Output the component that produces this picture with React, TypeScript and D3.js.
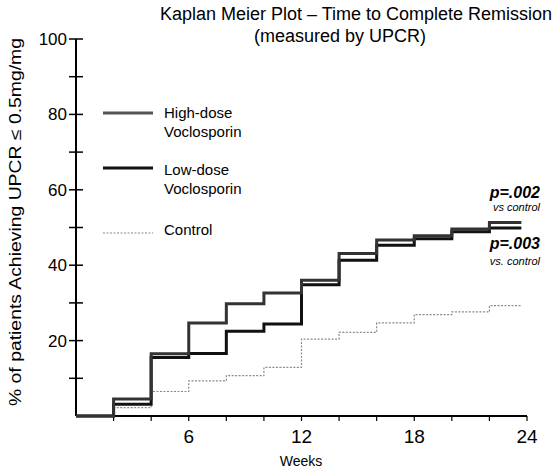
import React, { useRef, useEffect } from 'react'
import * as d3 from 'd3'

// step curves: [week, % achieving UPCR <= 0.5]
const highDose: [number, number][] = [
  [0, 0], [2, 4.5], [4, 16.5], [6, 24.7], [8, 29.8], [10, 32.6], [12, 36],
  [14, 43.1], [16, 46.7], [18, 47.8], [20, 49.6], [22, 51.3], [23.7, 51.3],
]
const lowDose: [number, number][] = [
  [0, 0], [2, 3.1], [4, 15.5], [6, 16.6], [8, 22.5], [10, 24.4], [12, 34.8],
  [14, 41.3], [16, 45.3], [18, 47], [20, 48.9], [22, 49.9], [23.7, 49.9],
]
const control: [number, number][] = [
  [0, 0], [2, 2.2], [4, 6.5], [6, 9.3], [8, 10.7], [10, 12.9], [12, 20.4],
  [14, 22.2], [16, 24.7], [18, 26.9], [20, 27.6], [22, 29.3], [23.7, 29.3],
]
const xLabels = [6, 12, 18, 24]
const yLabels = [20, 40, 60, 80, 100]

const font = 'Liberation Sans, Arial, sans-serif'

const App = () => {
  const svgRef = useRef<SVGSVGElement>(null)

  useEffect(() => {
    const svg = d3.select(svgRef.current)
    svg.selectAll('*').remove()

    const x = d3.scaleLinear().domain([0, 24]).range([76, 527])
    const y = d3.scaleLinear().domain([0, 100]).range([416, 39])

    // title
    svg.append('text').attr('x', 356).attr('y', 20).attr('text-anchor', 'middle')
      .attr('font-size', 18).attr('font-family', font).text('Kaplan Meier Plot \u2013 Time to Complete Remission')
    svg.append('text').attr('x', 340).attr('y', 42).attr('text-anchor', 'middle')
      .attr('font-size', 18).attr('font-family', font).text('(measured by UPCR)')

    // y axis
    svg.append('line').attr('x1', x(0)).attr('x2', x(0)).attr('y1', y(100)).attr('y2', y(0))
      .attr('stroke', '#000').attr('stroke-width', 2)
    svg.selectAll('.ytick').data(d3.range(10, 101, 10)).join('line')
      .attr('class', 'ytick')
      .attr('x1', x(0) - 7).attr('x2', x(0) + 7)
      .attr('y1', d => y(d)).attr('y2', d => y(d))
      .attr('stroke', '#000').attr('stroke-width', 1.5)
    svg.selectAll('.ylab').data(yLabels).join('text')
      .attr('class', 'ylab')
      .attr('x', x(0) - 9).attr('y', d => y(d) + 6)
      .attr('text-anchor', 'end').attr('font-size', 17).attr('font-family', font)
      .text(d => d)

    // x axis
    svg.append('line').attr('x1', x(0)).attr('x2', x(24)).attr('y1', y(0)).attr('y2', y(0))
      .attr('stroke', '#000').attr('stroke-width', 2)
    svg.selectAll('.xtick').data(d3.range(2, 25, 2)).join('line')
      .attr('class', 'xtick')
      .attr('x1', d => x(d)).attr('x2', d => x(d))
      .attr('y1', y(0)).attr('y2', y(0) + 5)
      .attr('stroke', '#000').attr('stroke-width', 1.2)
    svg.selectAll('.xlab').data(xLabels).join('text')
      .attr('class', 'xlab')
      .attr('x', d => x(d)).attr('y', 443)
      .attr('text-anchor', 'middle').attr('font-size', 19).attr('font-family', font)
      .text(d => d)
    svg.append('text').attr('x', 301).attr('y', 466).attr('text-anchor', 'middle')
      .attr('font-size', 14).attr('font-family', font).text('Weeks')

    // y label
    svg.append('text')
      .attr('transform', 'translate(21,222) rotate(-90)')
      .attr('text-anchor', 'middle').attr('font-size', 16).attr('font-family', font)
      .attr('textLength', 368).attr('lengthAdjust', 'spacingAndGlyphs')
      .text('% of patients Achieving UPCR \u2264 0.5mg/mg')

    const step = d3.line<[number, number]>()
      .x(d => x(d[0])).y(d => y(d[1]))
      .curve(d3.curveStepAfter)

    svg.append('path').datum(control).attr('d', step).attr('fill', 'none')
      .attr('stroke', '#8a8a8a').attr('stroke-width', 1.2).attr('stroke-dasharray', '2,1.5')
    svg.append('path').datum(lowDose).attr('d', step).attr('fill', 'none')
      .attr('stroke', '#111').attr('stroke-width', 3)
    svg.append('path').datum(highDose).attr('d', step).attr('fill', 'none')
      .attr('stroke', '#333').attr('stroke-width', 3)

    // legend
    const legend = [
      { lines: ['High-dose', 'Voclosporin'], ly: 113, ty: 118, stroke: '#555', w: 3, dash: null },
      { lines: ['Low-dose', 'Voclosporin'], ly: 168, ty: 175, stroke: '#111', w: 3, dash: null },
      { lines: ['Control'], ly: 233, ty: 235, stroke: '#8a8a8a', w: 1.2, dash: '2,1.5' },
    ]
    legend.forEach(l => {
      svg.append('line').attr('x1', 103).attr('x2', 153).attr('y1', l.ly).attr('y2', l.ly)
        .attr('stroke', l.stroke).attr('stroke-width', l.w).attr('stroke-dasharray', l.dash)
      l.lines.forEach((t, i) => {
        svg.append('text').attr('x', 164).attr('y', l.ty + i * 19)
          .attr('font-size', 15).attr('font-family', font).text(t)
      })
    })

    // p-value notes
    const notes = [
      { p: 'p=.002', vs: 'vs control', py: 198, vy: 211 },
      { p: 'p=.003', vs: 'vs. control', py: 249, vy: 265 },
    ]
    notes.forEach(n => {
      svg.append('text').attr('x', 540).attr('y', n.py).attr('text-anchor', 'end')
        .attr('font-size', 16).attr('font-weight', 'bold').attr('font-style', 'italic')
        .attr('font-family', font).text(n.p)
      svg.append('text').attr('x', 540).attr('y', n.vy).attr('text-anchor', 'end')
        .attr('font-size', 11).attr('font-style', 'italic')
        .attr('font-family', font).text(n.vs)
    })
  }, [])

  return (
    <svg ref={svgRef} width={559} height={476}
      style={{ position: 'absolute', left: 0, top: 0, background: '#fff' }} />
  )
}

export default App
